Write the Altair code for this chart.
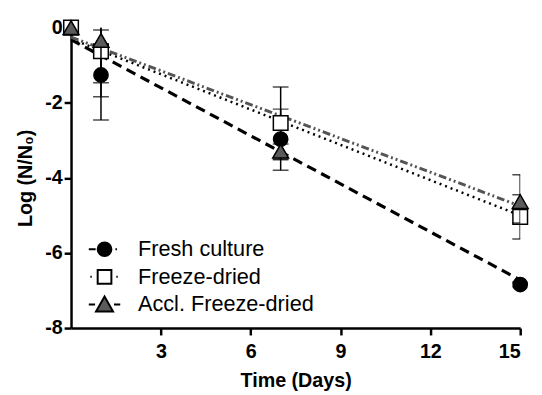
import altair as alt
import pandas as pd

series = ["Fresh culture", "Freeze-dried", "Accl. Freeze-dried"]
days = [0, 1, 7, 15]

fresh_mean = [0, -1.26, -2.97, -6.84]
fresh_lo = [0, -2.46, -3.80, -6.90]
fresh_hi = [0, -0.06, -2.17, -6.78]

fd_mean = [0, -0.63, -2.54, -5.04]
fd_lo = [0, -1.47, -3.52, -5.63]
fd_hi = [0, 0.20, -1.58, -4.45]

accl_mean = [0, -0.34, -3.29, -4.63]
accl_lo = [0, -1.84, -3.50, -5.20]
accl_hi = [0, 1.00, -3.10, -3.92]

# linear fit lines (value at day 0 and day 15)
fit_days = [0, 15]
fresh_fit = [-0.32, -6.72]
fd_fit = [-0.30, -5.00]
accl_fit = [-0.25, -4.75]

means = [fresh_mean, fd_mean, accl_mean]
los = [fresh_lo, fd_lo, accl_lo]
his = [fresh_hi, fd_hi, accl_hi]
fits = [fresh_fit, fd_fit, accl_fit]

rows = []
for s, m, lo, hi in zip(series, means, los, his):
    for d, a, b, c in zip(days, m, lo, hi):
        rows.append({"Series": s, "Day": d, "Mean": a, "Lo": b, "Hi": c})
df = pd.DataFrame(rows)

frows = []
for s, f in zip(series, fits):
    for d, v in zip(fit_days, f):
        frows.append({"Series": s, "Day": d, "Fit": v})
fdf = pd.DataFrame(frows)

fills = ["black", "white", "#5b5b5b"]
shapes = ["circle", "square", "triangle-up"]
sizes = [210, 220, 260]
dashes = [[10, 6], [2, 4], [8, 3, 2, 3, 2, 3]]
line_colors = ["black", "black", "#555555"]
line_widths = [3.2, 2.5, 3]

legend_paths = [
    "M-1.33,0H-0.75M0.92,0H1.05M-0.58,0A0.58,0.58 0 1,1 0.58,0A0.58,0.58 0 1,1 -0.58,0Z",
    "M-1.2,0H-1.08M1.0,0H1.12M-0.58,-0.58H0.58V0.58H-0.58Z",
    "M-1.33,0H-0.8M0.8,0H1.33M0,-0.68L0.72,0.6H-0.72Z",
]

xscale = alt.Scale(domain=[0, 15], nice=False, zero=False)
yscale = alt.Scale(domain=[-8, 0], nice=False, zero=False)

xax = alt.Axis(values=[3, 6, 9, 12, 15], title="Time (Days)", labelPadding=7, titlePadding=9)
yax = alt.Axis(values=[-8, -6, -4, -2, 0], title="Log (N/N₀)", labelPadding=2, titlePadding=9,
               labelExpr="'' + datum.value")

base = alt.Chart(df)
layers = []

# fit lines
for s, dash, col, w in zip(series, dashes, line_colors, line_widths):
    layers.append(
        alt.Chart(fdf).transform_filter(alt.datum.Series == s)
        .mark_line(strokeDash=dash, color=col, strokeWidth=w)
        .encode(x=alt.X("Day:Q", scale=xscale, axis=xax),
                y=alt.Y("Fit:Q", scale=yscale, axis=yax))
    )

# error bars and symbols, series by series
for s, fill, shp, sz in zip(series, fills, shapes, sizes):
    sub = base.transform_filter(alt.datum.Series == s)
    bars = sub.transform_filter(alt.datum.Lo < alt.datum.Hi)
    layers.append(
        bars.mark_rule(color="black", strokeWidth=1.5, clip=True)
        .encode(x="Day:Q", y="Lo:Q", y2="Hi:Q")
    )
    layers.append(
        bars.mark_tick(color="black", thickness=1.5, size=16, orient="horizontal", clip=True)
        .encode(x="Day:Q", y="Lo:Q")
    )
    layers.append(
        bars.mark_tick(color="black", thickness=1.5, size=16, orient="horizontal", clip=True)
        .encode(x="Day:Q", y="Hi:Q")
    )
    layers.append(
        sub.mark_point(shape=shp, filled=True, fill=fill, stroke="black",
                       strokeWidth=1.5, size=sz, opacity=1)
        .encode(x="Day:Q", y="Mean:Q")
    )

leg = alt.Legend(title=None, orient="none", legendX=21, legendY=212, padding=0,
                 symbolSize=576, symbolOpacity=1, symbolStrokeColor="black", symbolStrokeWidth=2,
                 labelOffset=21, rowPadding=4, labelFontSize=22, labelLimit=400,
                 labelFont="Liberation Sans", labelFontWeight="normal", labelColor="black")

legend_layer = (
    base.transform_filter("false")
    .mark_point(filled=True, strokeWidth=2, opacity=1)
    .encode(
        x="Day:Q", y="Mean:Q",
        shape=alt.Shape("Series:N", scale=alt.Scale(domain=series, range=legend_paths),
                        legend=leg, sort=series),
        fill=alt.Fill("Series:N", scale=alt.Scale(domain=series, range=fills),
                      legend=leg, sort=series),
        stroke=alt.Stroke("Series:N", scale=alt.Scale(domain=series, range=["black"] * 3),
                          legend=leg, sort=series),
    )
)
layers.append(legend_layer)

chart = (
    alt.layer(*layers)
    .properties(width=456, height=305, autosize="none",
                padding={"left": 64, "top": 17, "right": 14, "bottom": 65},
                background="white")
    .configure_view(stroke=None)
    .configure_axis(
        grid=False,
        domainColor="black", domainWidth=2.5,
        tickColor="black", tickWidth=2.5, tickSize=7,
        labelFont="Liberation Sans", labelFontSize=20, labelFontWeight="bold", labelColor="black",
        titleFont="Liberation Sans", titleFontSize=20, titleFontWeight="bold", titleColor="black",
    )
)

chart.save("out.html", embed_options={"renderer": "svg", "actions": False})
